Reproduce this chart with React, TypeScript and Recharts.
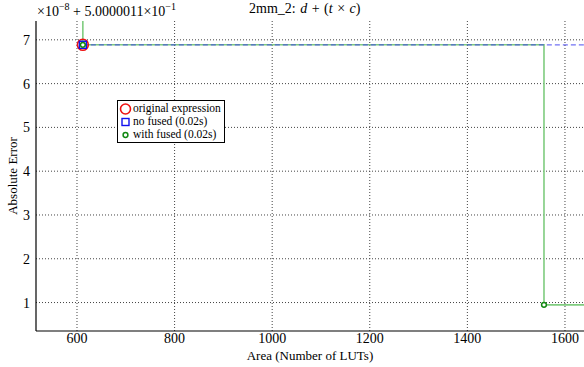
import React from 'react';
import {
  CartesianGrid,
  ComposedChart,
  Line,
  XAxis,
  YAxis,
} from 'recharts';

// x: area (LUTs), y: error in units of 1e-8 above the offset
const noFusedArea = [612, 1700];
const noFusedError = [6.886, 6.886];

const withFusedArea = [612, 612, 1557, 1557, 1700];
const withFusedError = [8.5, 6.886, 6.886, 0.947, 0.947];

const originalArea = [612];
const originalError = [6.886];

const fusedMarkerArea = [612, 1557];
const fusedMarkerError = [6.886, 0.947];

const xTicks = [600, 800, 1000, 1200, 1400, 1600];
const yTicks = [1, 2, 3, 4, 5, 6, 7];

const toPoints = (xs: number[], ys: number[]) =>
  xs.map((x, i) => ({ x, y: ys[i] }));

const serif = '"Liberation Serif", "DejaVu Serif", serif';

function RedCircle(props: any) {
  const { cx, cy } = props;
  return <circle cx={cx} cy={cy} r={5.5} fill="none" stroke="#ee1111" strokeWidth={1.6} />;
}

function BlueSquare(props: any) {
  const { cx, cy } = props;
  return (
    <rect x={cx - 3.5} y={cy - 3.5} width={7} height={7} fill="none" stroke="#1111ee" strokeWidth={1.4} />
  );
}

function GreenCircle(props: any) {
  const { cx, cy } = props;
  return <circle cx={cx} cy={cy} r={2.4} fill="#ffffff" stroke="#118811" strokeWidth={1.5} />;
}

function LegendBox() {
  const row: React.CSSProperties = {
    display: 'flex',
    alignItems: 'center',
    height: 13,
    lineHeight: '13px',
    whiteSpace: 'nowrap',
  };
  return (
    <div
      style={{
        position: 'absolute',
        left: 117,
        top: 100,
        width: 108,
        height: 43,
        border: '1px solid #000',
        background: '#fff',
        fontFamily: serif,
        fontSize: 11.5,
        lineHeight: '13px',
        padding: '1px 0 0 1px',
        boxSizing: 'border-box',
      }}
    >
      <div style={row}>
        <svg width={14} height={12}>
          <circle cx={6.5} cy={6} r={5} fill="none" stroke="#ee1111" strokeWidth={1.6} />
        </svg>
        <span>original expression</span>
      </div>
      <div style={row}>
        <svg width={14} height={12}>
          <rect x={3} y={2.5} width={7} height={7} fill="none" stroke="#1111ee" strokeWidth={1.4} />
        </svg>
        <span>no fused (0.02s)</span>
      </div>
      <div style={row}>
        <svg width={14} height={12}>
          <circle cx={6.5} cy={6} r={2.4} fill="#fff" stroke="#118811" strokeWidth={1.5} />
        </svg>
        <span>with fused (0.02s)</span>
      </div>
    </div>
  );
}

export default function App() {
  return (
    <div
      style={{
        position: 'absolute',
        left: 0,
        top: 0,
        width: 584,
        height: 367,
        overflow: 'hidden',
        background: '#fff',
        fontFamily: serif,
      }}
    >
      <ComposedChart
        width={584}
        height={367}
        margin={{ top: 21, right: 0, bottom: 0, left: 0 }}
      >
        <CartesianGrid
          stroke="#444"
          strokeDasharray="1 2"
          verticalValues={xTicks}
          horizontalValues={yTicks}
        />
        <XAxis
          xAxisId="top"
          orientation="top"
          type="number"
          dataKey="x"
          domain={[516, 1639]}
          allowDataOverflow
          height={0}
          tick={false}
          tickLine={false}
          axisLine={{ stroke: '#000', strokeWidth: 1.2 }}
        />
        <XAxis
          type="number"
          dataKey="x"
          domain={[516, 1639]}
          allowDataOverflow
          ticks={xTicks}
          height={36}
          axisLine={{ stroke: '#000', strokeWidth: 1.2 }}
          tickLine={false}
          tickSize={2}
          tick={{ fontSize: 14, fill: '#000', fontFamily: serif }}
          tickMargin={0}
          label={{
            value: 'Area (Number of LUTs)',
            position: 'insideBottom',
            offset: 7,
            fontSize: 13,
            fill: '#000',
            fontFamily: serif,
          }}
        />
        <YAxis
          type="number"
          dataKey="y"
          domain={[0.35, 7.43]}
          allowDataOverflow
          ticks={yTicks}
          width={36}
          axisLine={{ stroke: '#000', strokeWidth: 1.2 }}
          tickLine={false}
          tickSize={2}
          tick={{ fontSize: 14, fill: '#000', fontFamily: serif }}
          tickMargin={4}
          label={{
            value: 'Absolute Error',
            angle: -90,
            position: 'insideLeft',
            offset: 12,
            style: { textAnchor: 'middle' },
            fontSize: 13,
            fill: '#000',
            fontFamily: serif,
          }}
        />
        <Line
          data={toPoints(withFusedArea, withFusedError)}
          dataKey="y"
          type="linear"
          stroke="#7fcc7f"
          strokeWidth={1.6}
          dot={false}
          activeDot={false}
          isAnimationActive={false}
        />
        <Line
          data={toPoints(noFusedArea, noFusedError)}
          dataKey="y"
          type="linear"
          stroke="#3333ee"
          strokeOpacity={0.7}
          strokeWidth={1.2}
          strokeDasharray="5 3"
          dot={false}
          activeDot={false}
          isAnimationActive={false}
        />
        <Line
          data={toPoints(originalArea, originalError)}
          dataKey="y"
          stroke="none"
          dot={<RedCircle />}
          activeDot={false}
          isAnimationActive={false}
        />
        <Line
          data={toPoints(originalArea, originalError)}
          dataKey="y"
          stroke="none"
          dot={<BlueSquare />}
          activeDot={false}
          isAnimationActive={false}
        />
        <Line
          data={toPoints(fusedMarkerArea, fusedMarkerError)}
          dataKey="y"
          stroke="none"
          dot={<GreenCircle />}
          activeDot={false}
          isAnimationActive={false}
        />
      </ComposedChart>
      <div
        style={{
          position: 'absolute',
          left: 37,
          top: 1,
          fontSize: 14,
          whiteSpace: 'nowrap',
        }}
      >
        ×10<sup style={{ fontSize: 10 }}>−8</sup> + 5.0000011×10<sup style={{ fontSize: 10 }}>−1</sup>
      </div>
      <div
        style={{
          position: 'absolute',
          left: 249,
          top: 1,
          fontSize: 14,
          whiteSpace: 'nowrap',
          wordSpacing: 1,
        }}
      >
        2mm_2:&nbsp;<i>d</i>&nbsp;+&nbsp;(<i>t</i>&nbsp;×&nbsp;<i>c</i>)
      </div>
      <LegendBox />
    </div>
  );
}
